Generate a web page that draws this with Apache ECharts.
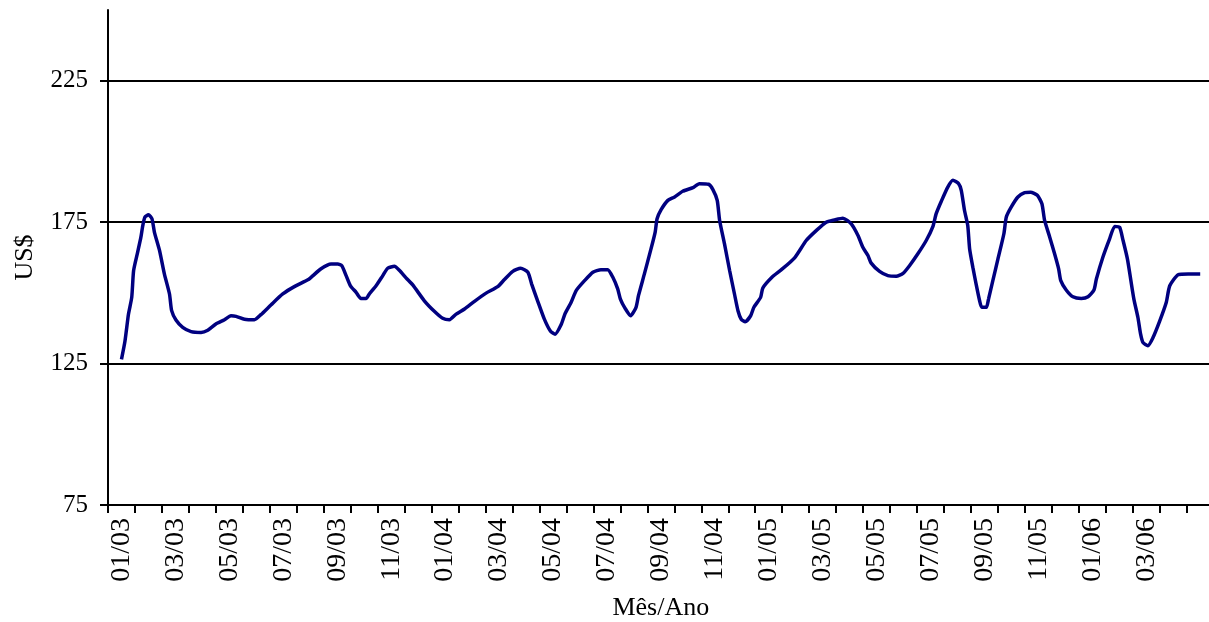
<!DOCTYPE html>
<html>
<head>
<meta charset="utf-8">
<script src="https://cdn.jsdelivr.net/npm/echarts@6/dist/echarts.min.js"></script>
<style>
html,body{margin:0;padding:0;background:#fff;}
#chart{width:1209px;height:622px;}
</style>
</head>
<body>
<div id="chart"></div>
<script>
// Month categories (MM/YY), Jan 2003 .. May 2006
const monthLabels = [
  '01/03','02/03','03/03','04/03','05/03','06/03','07/03','08/03','09/03','10/03','11/03','12/03',
  '01/04','02/04','03/04','04/04','05/04','06/04','07/04','08/04','09/04','10/04','11/04','12/04',
  '01/05','02/05','03/05','04/05','05/05','06/05','07/05','08/05','09/05','10/05','11/05','12/05',
  '01/06','02/06','03/06','04/06','05/06'
];
// Position of each observation, in months since Jan 2003 (0 = Jan 2003)
const monthPos = [
  0.00,0.13,0.26,0.38,0.45,0.60,0.72,0.79,0.87,1.00,1.13,1.22,1.41,1.59,1.78,1.86,2.02,2.27,2.58,2.95,
  3.20,3.50,3.82,4.06,4.25,4.56,4.93,5.17,5.55,5.98,6.41,6.91,7.03,7.40,7.77,8.02,8.17,8.33,8.49,8.70,
  8.88,9.07,9.19,9.44,9.69,9.87,10.12,10.31,10.55,10.80,11.23,11.61,11.91,12.16,12.41,12.72,13.09,13.52,13.95,14.20,
  14.51,14.80,15.07,15.21,15.44,15.68,15.91,16.08,16.30,16.45,16.67,16.86,17.17,17.48,17.78,18.03,18.22,18.40,18.50,18.67,
  18.88,19.08,19.17,19.39,19.62,19.79,19.86,20.01,20.26,20.51,20.81,21.19,21.43,21.77,21.93,22.09,22.18,22.36,22.55,22.73,
  22.86,22.98,23.13,23.33,23.45,23.70,23.78,24.12,24.46,24.96,25.39,25.76,26.13,26.44,26.75,27.06,27.31,27.49,27.68,27.80,
  28.11,28.42,28.73,28.98,29.22,29.53,29.84,30.09,30.21,30.40,30.64,30.83,31.04,31.14,31.26,31.38,31.45,31.57,31.69,31.82,
  31.90,32.07,32.15,32.31,32.50,32.72,32.81,32.99,33.24,33.49,33.71,33.96,34.13,34.23,34.42,34.60,34.75,34.83,35.03,35.28,
  35.59,35.84,36.06,36.15,36.39,36.64,36.83,37.01,37.14,37.30,37.42,37.54,37.69,37.79,37.88,38.06,38.25,38.50,38.74,38.87,
  39.18,39.55,40.00
];
// Price in US$
const priceUSD = [
  126.5,133.0,142.5,148.4,157.9,164.4,169.7,173.8,176.8,177.6,176.2,171.5,165.0,156.7,149.6,143.7,140.4,137.8,136.3,136.0,
  136.8,139.0,140.5,141.9,141.7,140.7,140.5,142.3,145.8,149.6,152.2,154.6,155.5,158.5,160.2,160.2,159.6,156.1,152.5,150.2,
  148.0,148.0,149.6,152.5,156.1,158.7,159.4,157.9,155.3,152.8,147.2,143.4,141.0,140.5,142.5,144.3,147.0,149.9,152.2,154.7,
  157.6,158.7,157.3,153.1,146.9,140.7,136.4,135.4,138.7,142.7,146.6,150.8,154.3,157.3,158.2,158.2,155.5,151.4,147.8,144.6,
  141.9,144.9,149.0,156.7,165.0,171.5,176.2,179.4,182.7,183.9,185.9,187.2,188.6,188.4,186.5,182.7,175.6,167.3,157.9,149.6,
  143.7,140.7,139.8,141.9,144.9,148.4,151.7,155.5,158.1,162.4,168.5,172.0,175.0,175.8,176.4,174.4,170.3,166.1,163.2,160.5,
  157.6,156.1,155.9,156.9,159.6,163.8,168.5,173.5,178.0,182.4,187.4,189.8,188.6,186.2,179.1,173.8,165.5,159.0,153.1,147.2,
  144.9,144.9,147.8,154.3,162.0,170.9,176.8,180.3,183.9,185.4,185.6,184.5,181.5,175.6,169.7,163.8,158.5,154.3,151.0,148.6,
  148.0,148.6,151.0,154.9,162.6,169.1,173.5,173.2,168.5,162.0,154.9,147.8,141.3,135.4,132.4,131.3,134.2,140.1,146.6,152.5,
  156.4,156.7,156.7
];
// Y axis ticks and horizontal gridlines
const yTicks = [75, 125, 175, 225];
const yGridLines = [125, 175, 225];

const FONT = 'Liberation Serif';
const chart = echarts.init(document.getElementById('chart'), null, {renderer: 'canvas'});
chart.setOption({
  animation: false,
  backgroundColor: '#ffffff',
  grid: {left: 108, right: -4.7, top: 10, bottom: 117, containLabel: false, outerBoundsMode: 'none'},
  xAxis: [
    {
      type: 'category',
      data: monthLabels,
      boundaryGap: true,
      name: 'Mês/Ano',
      nameLocation: 'middle',
      nameGap: 90,
      nameTextStyle: {fontFamily: FONT, fontSize: 26, color: '#000'},
      axisLine: {onZero: false, lineStyle: {color: '#000', width: 2}},
      axisTick: {show: true, interval: 0, length: 8, lineStyle: {color: '#000', width: 2}},
      axisLabel: {interval: 1, showMaxLabel: false, rotate: 90, margin: 13, fontFamily: FONT, fontSize: 28, color: '#000'},
      splitLine: {show: false}
    },
    {
      type: 'value',
      min: -0.5,
      max: 40.5,
      show: false
    }
  ],
  yAxis: {
    type: 'value',
    min: 75,
    max: 250,
    interval: 50,
    name: 'US$',
    nameLocation: 'middle',
    nameGap: 70,
    nameTextStyle: {fontFamily: FONT, fontSize: 26, color: '#000'},
    axisLine: {show: true, onZero: false, lineStyle: {color: '#000', width: 2}},
    axisTick: {show: true, length: 8, customValues: yTicks, lineStyle: {color: '#000', width: 2}},
    axisLabel: {customValues: yTicks, margin: 20, fontFamily: FONT, fontSize: 25, color: '#000'},
    splitLine: {show: false}
  },
  series: [{
    type: 'line',
    xAxisIndex: 1,
    data: monthPos.map((m, i) => [m, priceUSD[i]]),
    showSymbol: false,
    smooth: 0.2,
    lineStyle: {color: '#000080', width: 3.5},
    itemStyle: {color: '#000080'},
    z: 3,
    markLine: {
      silent: true,
      symbol: ['none', 'none'],
      z: 1,
      label: {show: false},
      lineStyle: {color: '#000', type: 'solid', width: 2},
      data: yGridLines.map(v => ({yAxis: v}))
    }
  }]
});
</script>
</body>
</html>
